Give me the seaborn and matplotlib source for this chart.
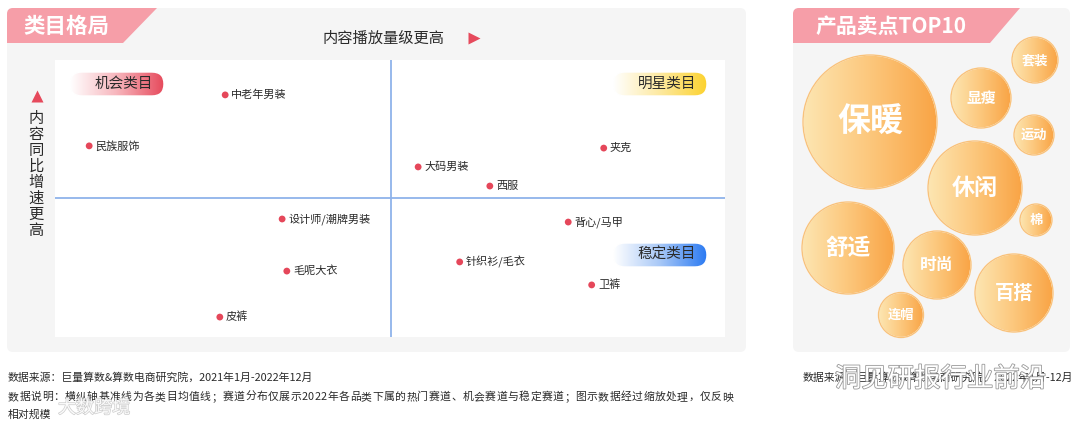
import numpy as np
import pandas as pd
import matplotlib
matplotlib.use('Agg')
import matplotlib.pyplot as plt
import seaborn as sns
from matplotlib.patches import FancyBboxPatch, Polygon, Circle
from matplotlib.colors import LinearSegmentedColormap
import matplotlib.patheffects as pe

# 类目格局: x = 内容播放量级, y = 内容同比增速 (scaled 0-100)
categories = ['中老年男装', '民族服饰', '设计师/潮牌男装', '毛呢大衣', '皮裤',
              '大码男装', '西服', '夹克', '背心/马甲', '针织衫/毛衣', '卫裤']
play_volume = [25.4, 5.1, 33.9, 34.6, 24.6, 54.2, 64.9, 81.9, 76.6, 60.4, 80.1]
yoy_growth = [87.4, 69.0, 42.6, 23.8, 7.2, 61.4, 54.5, 68.2, 41.5, 27.1, 18.8]
x_mean = 50.1
y_mean = 50.2

# 产品卖点TOP10, bubble radius (px) + packed layout centres
sell_points = ['保暖', '休闲', '舒适', '百搭', '时尚', '显瘦', '套装', '连帽', '运动', '棉']
bubble_r = [67, 47, 46, 39, 34, 30, 23, 22.5, 20, 16]
bubble_x = [870, 975, 848, 1014, 937, 981, 1035, 901, 1034, 1036]
bubble_y = [122, 188, 248, 293, 265, 98, 60, 315, 135, 220]

note1 = '数据来源：巨量算数&算数电商研究院，2021年1月-2022年12月'
note2 = ('数据说明：横纵轴基准线为各类目均值线；赛道分布仅展示2022年各品类下属的热门赛道、'
         '机会赛道与稳定赛道；图示数据经过缩放处理，仅反映')
note3 = '相对规模'
note_right = '数据来源：巨量算数&算数电商研究院，2022年1月-12月'

sns.set_style('white')
plt.rcParams['font.family'] = ['Noto Sans CJK SC', 'DejaVu Sans']

W, H = 1080, 426
fig = plt.figure(figsize=(W / 100, H / 100), dpi=100)
fig.patch.set_facecolor('white')

PINK = '#f69ea8'
RED = '#e64a5c'
GREY = '#f5f5f5'
INK = '#2a2a2a'


def pixel_axes(z):
    a = fig.add_axes([0, 0, 1, 1], zorder=z)
    a.set_xlim(0, W)
    a.set_ylim(H, 0)
    a.set_axis_off()
    a.patch.set_alpha(0)
    return a


def grad_patch(a, patch, colors, x0, x1, y0, y1):
    patch.set_facecolor('none')
    a.add_patch(patch)
    cmap = LinearSegmentedColormap.from_list('g', colors)
    im = a.imshow(np.linspace(0, 1, 256)[None, :], cmap=cmap, aspect='auto',
                  extent=(x0, x1, y1, y0), zorder=patch.get_zorder() - 0.1,
                  interpolation='bilinear')
    im.set_clip_path(patch)


bg = pixel_axes(0)

# panels
left_panel = FancyBboxPatch((7, 8), 739, 344, boxstyle='round,pad=0,rounding_size=6',
                            facecolor=GREY, edgecolor='none')
right_panel = FancyBboxPatch((793, 8), 277, 344, boxstyle='round,pad=0,rounding_size=6',
                             facecolor=GREY, edgecolor='none')
bg.add_patch(left_panel)
bg.add_patch(right_panel)
tab1 = Polygon([(7, 8), (157, 8), (123, 43), (7, 43)], closed=True, facecolor=PINK, edgecolor='none')
tab2 = Polygon([(793, 8), (1020, 8), (990, 43), (793, 43)], closed=True, facecolor=PINK, edgecolor='none')
bg.add_patch(tab1)
bg.add_patch(tab2)
tab1.set_clip_path(left_panel)
tab2.set_clip_path(right_panel)
bg.text(66, 26, '类目格局', color='white', fontsize=15.5, fontweight='bold', ha='center', va='center')
bg.text(891, 26, '产品卖点TOP10', color='white', fontsize=15, fontweight='bold', ha='center', va='center')

# axis titles
bg.text(384, 38, '内容播放量级更高', fontsize=11, color=INK, ha='center', va='center')
bg.plot([474], [38], marker='>', ms=8, color=RED, mec='none')
bg.plot([37], [96], marker='^', ms=8, color=RED, mec='none')
for i, ch in enumerate('内容同比增速更高'):
    bg.text(36, 118 + 16 * i, ch, fontsize=11, color=INK, ha='center', va='center')

# bubbles
for name, r, x, y in zip(sell_points, bubble_r, bubble_x, bubble_y):
    c = Circle((x, y), r, zorder=3)
    grad_patch(bg, c, ['#fde6b2', '#fcc77c', '#f9a445'], x - r, x + r, y - r, y + r)
    bg.add_patch(Circle((x, y), r, facecolor='none', edgecolor='#f8c27c', lw=1, zorder=3.2))
    bg.text(x, y, name, color='white', fontsize=max(9.5, r * 0.355), fontweight='bold',
            ha='center', va='center', zorder=4)

# footer
fs_note = 7.8
bg.text(8, 377, note1, fontsize=fs_note, color=INK, va='center')
fig.canvas.draw()
rend = fig.canvas.get_renderer()
widths = []
for ch in note2:
    t = bg.text(0, 0, ch, fontsize=fs_note)
    widths.append(t.get_window_extent(rend).width)
    t.remove()
gap = (733 - 8 - sum(widths)) / (len(note2) - 1)
xc = 8
for ch, w in zip(note2, widths):
    bg.text(xc, 397, ch, fontsize=fs_note, color=INK, va='center')
    xc += w + gap
bg.text(8, 415, note3, fontsize=fs_note, color=INK, va='center')
bg.text(1073, 377, note_right, fontsize=fs_note, color=INK, va='center', ha='right')

# watermarks (as in the source image)
bg.text(835, 379, '洞见研报行业前沿', fontsize=19, color='white', va='center', zorder=5,
        path_effects=[pe.withStroke(linewidth=1.2, foreground='#9a9a9a')])
bg.text(58, 408, '大数跨境', fontsize=13, color='white', va='center', zorder=5, alpha=0.9,
        path_effects=[pe.withStroke(linewidth=1.0, foreground='#c8c8c8')])

# scatter quadrant
ax = fig.add_axes([55 / W, 1 - 337 / H, 670 / W, 277 / H], zorder=1)
ax.set_facecolor('white')
df = pd.DataFrame({'name': categories, 'play': play_volume, 'growth': yoy_growth})
sns.scatterplot(data=df, x='play', y='growth', ax=ax, color='#e5475a', s=24,
                edgecolor='none', legend=False, zorder=3)
ax.axvline(x_mean, color='#8fb3ea', lw=1.3, zorder=1)
ax.axhline(y_mean, color='#8fb3ea', lw=1.3, zorder=1)
for _, row in df.iterrows():
    ax.annotate(row['name'], (row['play'], row['growth']), xytext=(4.5, 0),
                textcoords='offset points', va='center', ha='left', fontsize=8, color=INK)
ax.set_xlim(0, 100)
ax.set_ylim(0, 100)
ax.set_xticks([])
ax.set_yticks([])
ax.set_xlabel('')
ax.set_ylabel('')
sns.despine(ax=ax, left=True, bottom=True)

# quadrant tags
top = pixel_axes(2)
pills = [('机会类目', 70, 72, ['#ffffff', '#f7b5bc', RED]),
         ('明星类目', 613, 72, ['#ffffff', '#fde9a0', '#fcd22f']),
         ('稳定类目', 613, 243, ['#ffffff', '#a8c8f7', '#2b7af2'])]
for label, px, py, cols in pills:
    p = FancyBboxPatch((px, py), 94, 24, boxstyle='round,pad=0,rounding_size=12', zorder=2)
    grad_patch(top, p, cols, px, px + 94, py, py + 24)
    top.text(px + 54, py + 12, label, fontsize=10.5, color=INK, ha='center', va='center', zorder=3)
top.set_xlim(0, W)
top.set_ylim(H, 0)
bg.set_xlim(0, W)
bg.set_ylim(H, 0)

fig.savefig('out.png', dpi=100, facecolor='white')
